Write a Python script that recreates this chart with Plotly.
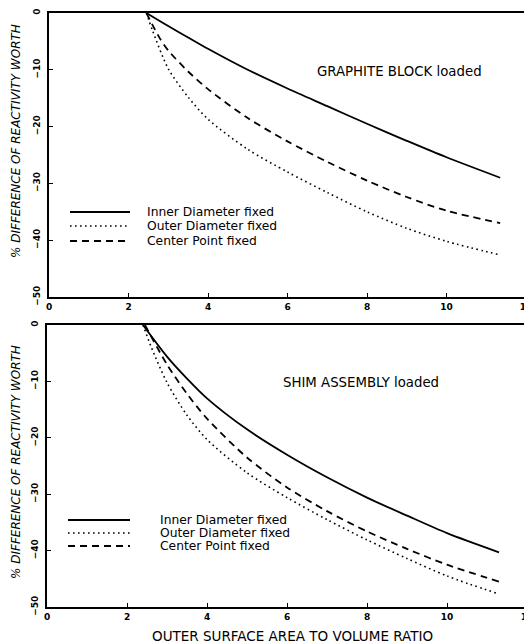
import plotly.graph_objects as go

# ---------------- data ----------------
# Top panel: GRAPHITE BLOCK loaded
top_inner_x = [2.45, 3.0, 3.5, 4.0, 5.0, 6.0, 7.0, 8.0, 9.0, 10.0, 11.35]
top_inner_y = [0.0, -2.3, -4.3, -6.3, -10.0, -13.3, -16.4, -19.5, -22.5, -25.4, -29.0]

top_outer_x = [2.45, 2.6, 3.0, 3.5, 4.0, 5.0, 6.0, 7.0, 8.0, 9.0, 10.0, 11.35]
top_outer_y = [0.0, -3.0, -9.8, -14.8, -18.7, -24.0, -28.0, -31.6, -35.0, -37.9, -40.2, -42.6]

top_center_x = [2.45, 2.8, 3.0, 3.5, 4.0, 5.0, 6.0, 7.0, 8.0, 9.0, 10.0, 11.35]
top_center_y = [0.0, -4.6, -6.6, -10.3, -13.4, -18.5, -22.6, -26.2, -29.5, -32.4, -34.8, -37.0]

# Bottom panel: SHIM ASSEMBLY loaded
bot_inner_x = [2.4, 3.0, 3.5, 4.0, 5.0, 6.0, 7.0, 8.0, 9.0, 10.0, 11.3]
bot_inner_y = [0.0, -5.6, -9.5, -13.0, -18.5, -23.0, -27.0, -30.6, -33.8, -36.9, -40.3]

bot_outer_x = [2.4, 2.6, 3.0, 3.5, 4.0, 5.0, 6.0, 7.0, 8.0, 9.0, 10.0, 11.3]
bot_outer_y = [0.0, -3.8, -10.2, -16.0, -20.3, -26.2, -30.6, -34.5, -38.1, -41.4, -44.5, -47.7]

bot_center_x = [2.45, 3.0, 3.5, 4.0, 5.0, 6.0, 7.0, 8.0, 9.0, 10.0, 11.3]
bot_center_y = [0.0, -7.0, -12.2, -16.6, -23.5, -28.8, -33.0, -36.6, -39.7, -42.5, -45.5]

series_names = ["Inner Diameter fixed", "Outer Diameter fixed", "Center Point fixed"]
panel_labels = ["GRAPHITE BLOCK loaded", "SHIM ASSEMBLY loaded"]
x_ticks = [0, 2, 4, 6, 8, 10, 12]
y_ticks = [0, -10, -20, -30, -40, -50]
x_title = "OUTER SURFACE AREA TO VOLUME RATIO"
y_title = "% DIFFERENCE OF REACTIVITY WORTH"

# ---------------- styling ----------------
OFF = 8  # default page body margin
W, H = 532 - OFF, 644 - OFF
FONT = "DejaVu Sans"
styles = [
    dict(color="black", width=1.8, dash="solid"),
    dict(color="black", width=1.6, dash="1.6px,3.4px"),
    dict(color="black", width=1.8, dash="7px,5px"),
]

def px_x(p):
    return (p - OFF) / W

def px_y(p):
    return (H - (p - OFF)) / H

fig = go.Figure()

panels = [
    ("x", "y", [(top_inner_x, top_inner_y), (top_outer_x, top_outer_y), (top_center_x, top_center_y)]),
    ("x2", "y2", [(bot_inner_x, bot_inner_y), (bot_outer_x, bot_outer_y), (bot_center_x, bot_center_y)]),
]
for xa, ya, curves in panels:
    for (xs, ys), st, nm in zip(curves, styles, series_names):
        fig.add_trace(go.Scatter(x=xs, y=ys, mode="lines", name=nm, xaxis=xa, yaxis=ya,
                                 line=dict(color=st["color"], width=st["width"], dash=st["dash"],
                                           shape="spline", smoothing=0.8),
                                 showlegend=False))

axis_common = dict(
    showgrid=False, zeroline=False, showline=True, linecolor="black", linewidth=1.5,
    mirror=True, ticks="inside", ticklen=4, tickwidth=1.2, tickcolor="black", automargin=False,
    ticklabeloverflow="allow",
    tickfont=dict(family=FONT, size=9, color="black", weight="bold"),
)

fig.update_layout(
    width=W, height=H, margin=dict(l=0, r=0, t=0, b=0, autoexpand=False),
    paper_bgcolor="white", plot_bgcolor="white", showlegend=False,
    xaxis=dict(domain=[px_x(49), px_x(526)], range=[0, 12], tickvals=x_ticks, anchor="y", **axis_common),
    yaxis=dict(domain=[px_y(297), px_y(13)], range=[-50, 0], tickvals=y_ticks, tickangle=-90, anchor="x",
               ticklabelstandoff=4, **axis_common),
    xaxis2=dict(domain=[px_x(47), px_x(527)], range=[0, 12], tickvals=x_ticks, anchor="y2", **axis_common),
    yaxis2=dict(domain=[px_y(607), px_y(325)], range=[-50, 0], tickvals=y_ticks, tickangle=-90, anchor="x2",
                ticklabelstandoff=4, **axis_common),
)

annotations = []
shapes = []

# legends drawn as sample lines + text
legend_specs = [
    (70, 130, [212, 226, 241], 145),
    (68, 130, [520, 533, 546], 158),
]
for (x0, x1, ys, tx) in legend_specs:
    for yy, st, nm in zip(ys, styles, series_names):
        shapes.append(dict(type="line", xref="paper", yref="paper",
                           x0=px_x(x0), x1=px_x(x1), y0=px_y(yy), y1=px_y(yy),
                           line=dict(color="black", width=st["width"], dash=st["dash"])))
        annotations.append(dict(text=nm, xref="paper", yref="paper", x=px_x(tx), y=px_y(yy),
                                xanchor="left", yanchor="middle", showarrow=False,
                                font=dict(family=FONT, size=12.3, color="black")))

# panel labels
annotations.append(dict(text=panel_labels[0], xref="paper", yref="paper", x=px_x(399), y=px_y(72),
                        xanchor="center", yanchor="middle", showarrow=False,
                        font=dict(family=FONT, size=13.3, color="black")))
annotations.append(dict(text=panel_labels[1], xref="paper", yref="paper", x=px_x(361), y=px_y(383),
                        xanchor="center", yanchor="middle", showarrow=False,
                        font=dict(family=FONT, size=13.3, color="black")))

# axis titles
for cy in (141, 462):
    annotations.append(dict(text="<i>" + y_title + "</i>", xref="paper", yref="paper", x=px_x(16), y=px_y(cy),
                            xanchor="center", yanchor="middle", textangle=-90, showarrow=False,
                            font=dict(family=FONT, size=12, color="black")))
annotations.append(dict(text=x_title, xref="paper", yref="paper", x=px_x(292), y=px_y(636),
                        xanchor="center", yanchor="middle", showarrow=False,
                        font=dict(family=FONT, size=13.5, color="black")))

fig.update_layout(annotations=annotations, shapes=shapes)

fig.write_html("out.html")
